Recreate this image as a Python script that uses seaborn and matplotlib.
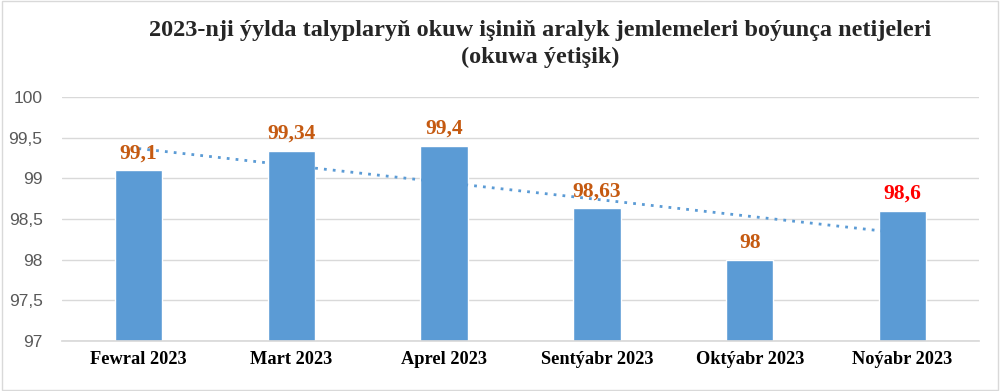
import numpy as np
import pandas as pd
import matplotlib
matplotlib.use("Agg")
import matplotlib.pyplot as plt
import seaborn as sns

categories = ["Fewral 2023", "Mart 2023", "Aprel 2023", "Sentýabr 2023", "Oktýabr 2023", "Noýabr 2023"]
values = [99.1, 99.34, 99.4, 98.63, 98.0, 98.6]
labels = ["99,1", "99,34", "99,4", "98,63", "98", "98,6"]
label_colors = ["#C55A11", "#C55A11", "#C55A11", "#C55A11", "#C55A11", "#FF0000"]
yticks = [97, 97.5, 98, 98.5, 99, 99.5, 100]
yticklabels = ["97", "97,5", "98", "98,5", "99", "99,5", "100"]
title = "2023-nji ýylda talyplaryň okuw işiniň aralyk jemlemeleri boýunça netijeleri\n(okuwa ýetişik)"

sns.set_theme(style="white")
plt.rcParams['font.family'] = ['DejaVu Sans']

df = pd.DataFrame({"cat": categories, "val": values})

fig = plt.figure(figsize=(10, 3.91), dpi=100)
ax = fig.add_axes([0.062, 0.128, 0.917, 0.624])
sns.barplot(data=df, x="cat", y="val", color="#5B9BD5", saturation=1, width=0.31, ax=ax, zorder=2)

# linear trend line
xs = np.arange(len(values))
slope, intercept = np.polyfit(xs, values, 1)
ax.plot(xs, slope * xs + intercept, linestyle=(0, (1, 2.2)), color="#5B9BD5", linewidth=2, zorder=3)

ax.set_ylim(97, 100)
ax.set_xlim(-0.5, len(values) - 0.5)
ax.set_yticks(yticks)
ax.set_yticklabels(yticklabels, fontfamily="Liberation Sans", fontsize=12.5, color="#595959")
ax.set_xticks(xs)
ax.set_xticklabels(categories, fontfamily="Liberation Serif", fontweight="bold", fontsize=13.2, color="#000000")
ax.tick_params(axis="x", length=0, pad=7)
ax.tick_params(axis="y", length=0, pad=14)
ax.yaxis.grid(True, color="#D9D9D9", linewidth=1, zorder=0)
ax.set_axisbelow(True)
for s in ["top", "right", "left"]:
    ax.spines[s].set_visible(False)
ax.spines["bottom"].set_color("#D9D9D9")
ax.set_xlabel("")
ax.set_ylabel("")

for i, (v, lab, c) in enumerate(zip(values, labels, label_colors)):
    ax.annotate(lab, (i, v), xytext=(0, 5), textcoords="offset points", ha="center", va="bottom",
                fontfamily="Liberation Serif", fontweight="bold", fontsize=15.5, color=c, zorder=4)

fig.text(0.54, 0.95, title, ha="center", va="top", fontfamily="Liberation Serif",
         fontweight="bold", fontsize=17.5, linespacing=1.4)

fig.patches.append(plt.Rectangle((0.002, 0.003), 0.996, 0.994, transform=fig.transFigure,
                                 fill=False, edgecolor="#D9D9D9", linewidth=1))

fig.savefig("out.png", dpi=100, facecolor="white")
